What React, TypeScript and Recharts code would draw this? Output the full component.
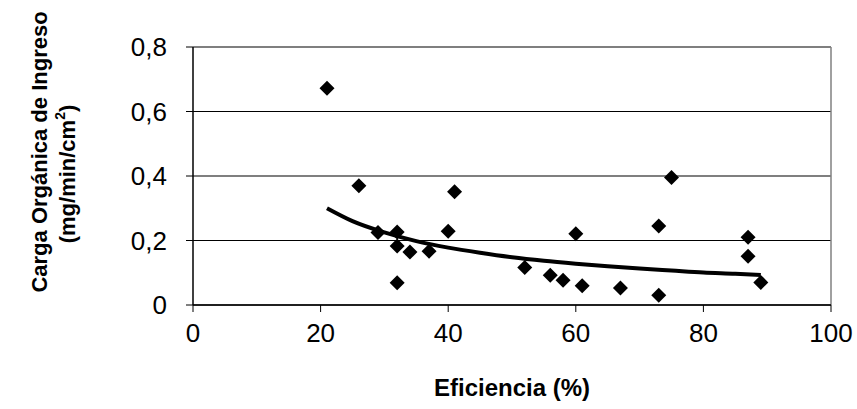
import {
  ComposedChart,
  Scatter,
  Line,
  XAxis,
  YAxis,
  CartesianGrid,
  ReferenceLine,
} from 'recharts';

// eficiencia (%) vs carga orgánica de ingreso
const eficiencia = [21, 26, 29, 32, 32, 34, 37, 32, 40, 41, 52, 56, 58, 60, 61, 67, 73, 73, 75, 87, 87, 89];
const carga = [0.672, 0.37, 0.225, 0.226, 0.183, 0.164, 0.167, 0.069, 0.229, 0.351, 0.116, 0.092, 0.077, 0.221, 0.06, 0.053, 0.245, 0.03, 0.395, 0.21, 0.151, 0.07];

// trend line (potencial)
const trendX = [21, 25, 30, 35, 40, 45, 50, 55, 60, 65, 70, 75, 80, 85, 89];
const trendY = [0.3, 0.26, 0.225, 0.198, 0.178, 0.162, 0.148, 0.137, 0.128, 0.12, 0.113, 0.107, 0.101, 0.097, 0.093];

const xTicks = [0, 20, 40, 60, 80, 100];
const yTicks = [0, 0.2, 0.4, 0.6, 0.8];

const points = eficiencia.map((x, i) => ({ x, y: carga[i] }));
const trend = trendX.map((x, i) => ({ x, y: trendY[i] }));

const FONT = '"Liberation Sans", Arial, sans-serif';

const Diamond = (props: any) => {
  const { cx, cy } = props;
  const r = 7.5;
  return <path d={`M${cx},${cy - r}L${cx + r},${cy}L${cx},${cy + r}L${cx - r},${cy}Z`} fill="#000" />;
};

const App = () => {
  return (
    <div style={{ position: 'absolute', left: 0, top: 0, width: 857, height: 409, background: '#fff' }}>
      <ComposedChart
        width={857}
        height={409}
        margin={{ top: 47, right: 26, left: 0, bottom: 0 }}
        style={{ fontFamily: FONT }}
      >
        <CartesianGrid horizontal vertical={false} stroke="#000" strokeWidth={1.2} />
        <XAxis
          type="number"
          dataKey="x"
          domain={[0, 100]}
          ticks={xTicks}
          height={104}
          tickSize={7}
          tickMargin={12}
          stroke="#000"
          axisLine={{ stroke: '#000', strokeWidth: 1.5 }}
          tick={{ fill: '#000', fontSize: 26, fontFamily: FONT }}
          allowDataOverflow
        />
        <YAxis
          type="number"
          dataKey="y"
          domain={[0, 0.8]}
          ticks={yTicks}
          width={193}
          tickSize={7}
          tickMargin={19}
          stroke="#000"
          axisLine={{ stroke: '#000', strokeWidth: 1.5 }}
          tick={{ fill: '#000', fontSize: 26, fontFamily: FONT }}
          tickFormatter={(v: number) => String(v).replace('.', ',')}
        />
        <ReferenceLine x={100} stroke="#808080" strokeWidth={1.5} />
        <Line
          data={trend}
          dataKey="y"
          type="monotone"
          stroke="#000"
          strokeWidth={4}
          dot={false}
          activeDot={false}
          isAnimationActive={false}
        />
        <Scatter data={points} dataKey="y" shape={<Diamond />} isAnimationActive={false} />
        <text
          x={512}
          y={396}
          textAnchor="middle"
          fontFamily={FONT}
          fontWeight="bold"
          fontSize={24}
          fill="#000"
        >
          Eficiencia (%)
        </text>
        <text
          transform="translate(47,152) rotate(-90)"
          textAnchor="middle"
          fontFamily={FONT}
          fontWeight="bold"
          fontSize={22}
          fill="#000"
        >
          Carga Orgánica de Ingreso
        </text>
        <text
          transform="translate(75,174) rotate(-90)"
          textAnchor="middle"
          fontFamily={FONT}
          fontWeight="bold"
          fontSize={22}
          fill="#000"
        >
          (mg/min/cm<tspan fontSize={14} dy={-10}>2</tspan>
          <tspan dy={10}>)</tspan>
        </text>
      </ComposedChart>
    </div>
  );
};

export default App;
